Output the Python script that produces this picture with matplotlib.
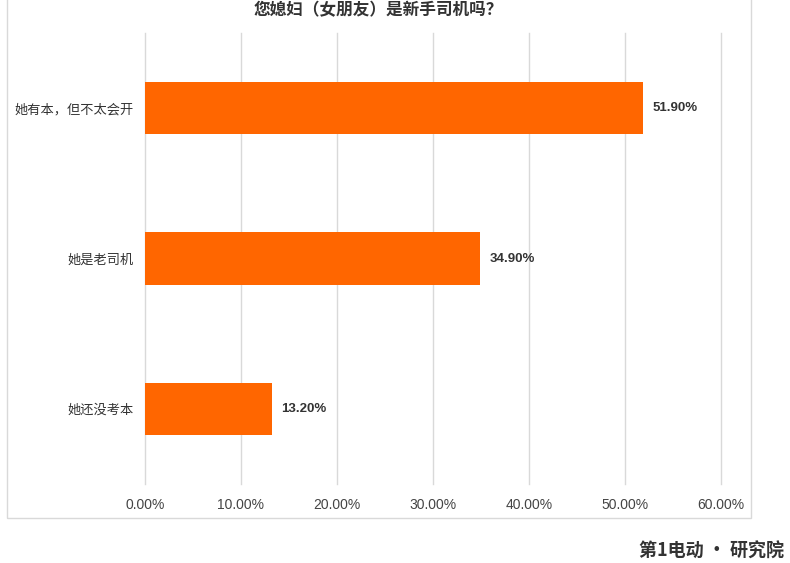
import matplotlib.pyplot as plt
from matplotlib.patches import Rectangle
from matplotlib.ticker import FuncFormatter

plt.rcParams['font.family'] = ['Noto Sans CJK SC', 'DejaVu Sans']

# data
title = "您媳妇（女朋友）是新手司机吗？"
categories = ["她有本，但不太会开", "她是老司机", "她还没考本"]
values = [51.90, 34.90, 13.20]
xticks = [0, 10, 20, 30, 40, 50, 60]

W, H = 790, 563
fig = plt.figure(figsize=(W / 100, H / 100), dpi=100)

# outer chart frame (top edge runs off the picture)
fig.patches.append(Rectangle((7 / W, 1 - 518 / H), 744 / W, 560 / H,
                             transform=fig.transFigure, fill=False,
                             edgecolor="#d9d9d9", linewidth=1))

ax = fig.add_axes([145 / W, 1 - 484 / H, 576 / W, 451 / H])

ypos = list(range(len(categories)))
ax.barh(ypos, values, height=0.35, color="#ff6600", zorder=3)
ax.set_ylim(len(categories) - 0.5, -0.5)
ax.set_xlim(0, 60)

for y, v in zip(ypos, values):
    ax.text(v + 1, y, f"{v:.2f}%", va="center", ha="left",
            fontsize=9.5, color="#333333", fontweight="bold",
            family=["Liberation Sans", "DejaVu Sans"])

ax.set_xticks(xticks)
ax.xaxis.set_major_formatter(FuncFormatter(lambda x, p: f"{x:.2f}%"))
ax.set_yticks(ypos)
ax.set_yticklabels(categories)
ax.tick_params(axis="x", length=0, pad=10, labelsize=10, labelcolor="#444444")
ax.tick_params(axis="y", length=0, pad=8, labelsize=9.5, labelcolor="#333333")
for lab in ax.get_xticklabels():
    lab.set_family(["Liberation Sans", "DejaVu Sans"])
ax.grid(axis="x", color="#d9d9d9", linewidth=1, zorder=0)
for gl in ax.get_xgridlines():
    gl.set_clip_on(False)
for s in ax.spines.values():
    s.set_visible(False)

# title (cut off at the top in the source, kept visible here)
fig.text(378 / W, 1 - 1 / H, title, ha="center", va="top",
         fontsize=12, fontweight="bold", color="#333333")

# logo text bottom right
fig.text(784 / W, 1 - 551 / H, "第1电动 · 研究院", ha="right", va="center",
         fontsize=13, fontweight="bold", color="#333333")

fig.savefig("out.png", dpi=100)
